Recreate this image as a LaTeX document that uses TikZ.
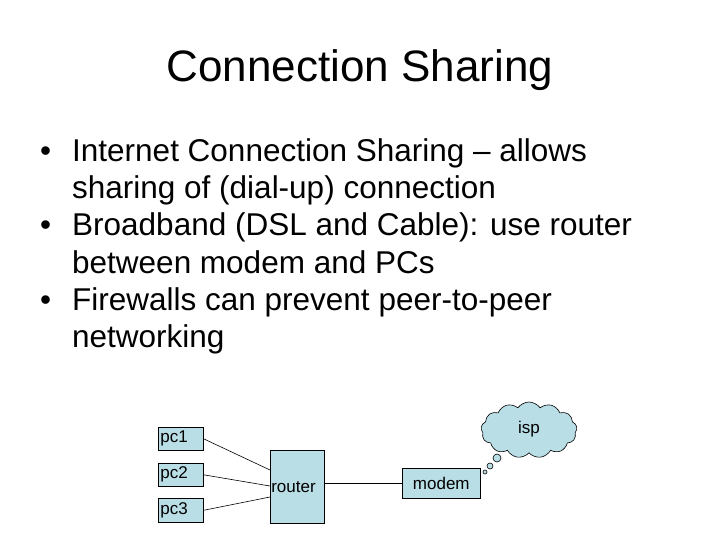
\documentclass[tikz,border=0pt]{standalone}
\usepackage{fontspec}
\setmainfont{Liberation Sans}
\usetikzlibrary{shapes.symbols}
\definecolor{boxfill}{HTML}{BADEE6}
\begin{document}
\begin{tikzpicture}[x=1pt,y=-1pt,
  box/.style={draw,fill=boxfill,line width=0.6pt,inner sep=0pt,font=\fontsize{17}{20}\selectfont},
  txt/.style={anchor=base west,inner sep=0pt,font=\fontsize{31.5}{36}\selectfont},
  lnk/.style={line width=0.6pt}]
\useasboundingbox (0,0) rectangle (720,540);
\node[font=\fontsize{44}{50}\selectfont] (title) at (360,70) {Connection Sharing};
\node[txt] (b1) at (40,162) {•};
\node[txt] (l1) at (72,162) {Internet Connection Sharing – allows};
\node[txt] (l2) at (72,199) {sharing of (dial-up) connection};
\node[txt] (b2) at (40,236) {•};
\node[txt] (l3) at (72,236) {Broadband (DSL and Cable): use router};
\node[txt] (l4) at (72,273) {between modem and PCs};
\node[txt] (b3) at (40,310) {•};
\node[txt] (l5) at (72,310) {Firewalls can prevent peer-to-peer};
\node[txt] (l6) at (72,347) {networking};
\node[box,minimum width=45,minimum height=23,anchor=north west,inner xsep=2,text width=41,align=left] (pc1) at (158,427) {pc1};
\node[box,minimum width=45,minimum height=23,anchor=north west,inner xsep=2,text width=41,align=left] (pc2) at (158,463) {pc2};
\node[box,minimum width=45,minimum height=24,anchor=north west,inner xsep=2,text width=41,align=left] (pc3) at (158,498) {pc3};
\node[box,minimum width=54,minimum height=73,anchor=north west,inner xsep=1,text width=52,align=left] (router) at (270,450) {\raisebox{-8pt}{router}};
\node[box,minimum width=78,minimum height=30,anchor=north west] (modem) at (402,468) {modem};
\node[box,cloud,cloud puffs=13,cloud puff arc=110,aspect=1.8,minimum width=96,minimum height=56] (isp) at (529,430) {\raisebox{6pt}{isp}};
\node[box,circle,minimum size=8] (c1) at (497,458) {};
\node[box,circle,minimum size=6] (c2) at (490,466) {};
\node[box,circle,minimum size=4] (c3) at (485,472) {};
\draw[lnk] (pc1.east) -- (270,470);
\draw[lnk] (pc2.east) -- (270,486);
\draw[lnk] (pc3.east) -- (270,497);
\draw[lnk] (router.east |- modem.west) -- (modem.west);
\end{tikzpicture}
\end{document}
